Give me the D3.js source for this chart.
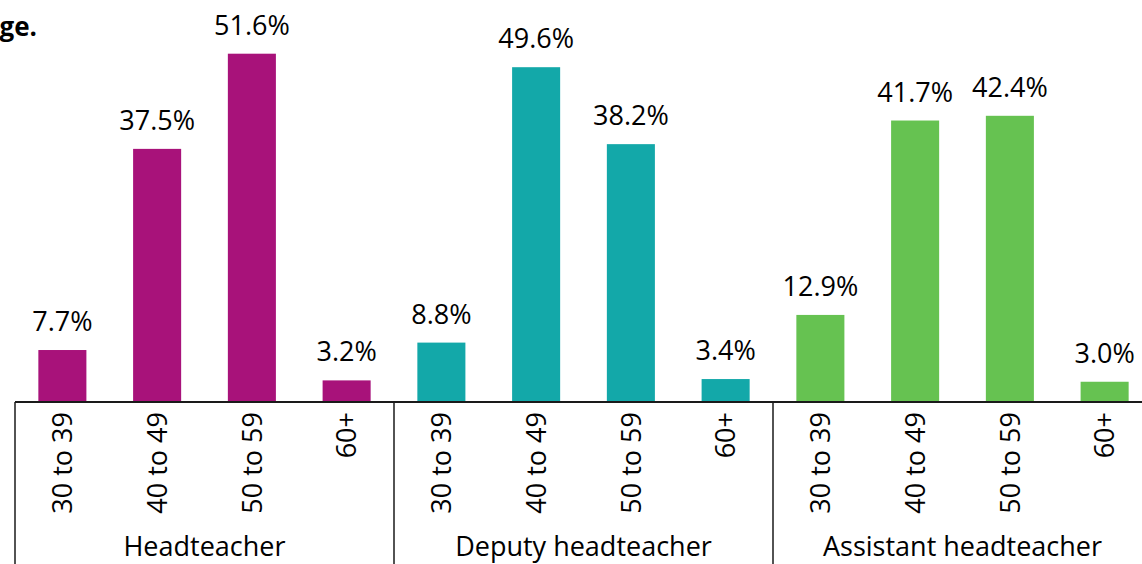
<!DOCTYPE html>
<html>
<head>
<meta charset="utf-8">
<script src="https://cdn.jsdelivr.net/npm/d3@7"></script>
<style>
    body { margin: 0; background: #fff; }
    svg { display: block; font-family: "Open Sans", "Noto Sans", sans-serif; }
</style>
</head>
<body>
<div class="graph"></div>
<script>
var groups = ["Headteacher", "Deputy headteacher", "Assistant headteacher"];
var ages = ["30 to 39", "40 to 49", "50 to 59", "60+"];
var headValues = [7.7, 37.5, 51.6, 3.2];
var deputyValues = [8.8, 49.6, 38.2, 3.4];
var assistantValues = [12.9, 41.7, 42.4, 3.0];
var colors = ["#a8127a", "#13a8a9", "#66c251"];

var loadChart = function () {
    const WIDTH = 1142;
    const HEIGHT = 564;
    const AXIS_Y = 402;

    var seriesValues = [headValues, deputyValues, assistantValues];

    var svg = d3.select(".graph").append("svg")
        .attr("width", WIDTH)
        .attr("height", HEIGHT);

    // clipped title fragment at top left
    svg.append("text")
        .attr("x", 37)
        .attr("y", 36)
        .attr("text-anchor", "end")
        .style("font-weight", "bold")
        .style("font-size", "26px")
        .text("ge.");

    var groupScale = d3.scaleBand().domain(groups).range([15, 1152]);
    var ageScale = d3.scaleBand().domain(ages)
        .range([0, groupScale.bandwidth()])
        .paddingInner(0.493)
        .paddingOuter(0.2465);
    var yScale = d3.scaleLinear().domain([0, 60]).range([AXIS_Y, -3]);

    groups.forEach(function (group, gi) {
        var g = svg.append("g")
            .attr("transform", "translate(" + groupScale(group) + ",0)");

        var data = ages.map(function (age, i) {
            return {age: age, value: seriesValues[gi][i]};
        });

        g.selectAll("rect")
            .data(data)
            .enter().append("rect")
            .attr("x", function (d) { return ageScale(d.age); })
            .attr("y", function (d) { return yScale(d.value); })
            .attr("width", ageScale.bandwidth())
            .attr("height", function (d) { return AXIS_Y - yScale(d.value); })
            .style("fill", colors[gi]);

        g.selectAll(".value")
            .data(data)
            .enter().append("text")
            .attr("class", "value")
            .attr("x", function (d) { return ageScale(d.age) + ageScale.bandwidth() / 2; })
            .attr("y", function (d) { return yScale(d.value) - 19; })
            .attr("text-anchor", "middle")
            .style("font-size", "27px")
            .style("fill", "#000")
            .text(function (d) { return d.value.toFixed(1) + "%"; });

        g.selectAll(".cat")
            .data(data)
            .enter().append("text")
            .attr("class", "cat")
            .attr("transform", function (d) {
                return "translate(" + (ageScale(d.age) + ageScale.bandwidth() / 2) + "," + (AXIS_Y + 10) + ") rotate(-90)";
            })
            .attr("text-anchor", "end")
            .attr("dy", "0.36em")
            .style("font-size", "27px")
            .text(function (d) { return d.age; });

        g.append("text")
            .attr("x", groupScale.bandwidth() / 2)
            .attr("y", 556)
            .attr("text-anchor", "middle")
            .style("font-size", "27px")
            .text(group);

        g.append("line")
            .attr("x1", 0).attr("x2", 0)
            .attr("y1", AXIS_Y).attr("y2", HEIGHT)
            .style("stroke", "#1a1a1a")
            .style("stroke-width", 1.5);
    });

    svg.append("line")
        .attr("x1", groupScale.range()[0]).attr("x2", groupScale.range()[1])
        .attr("y1", AXIS_Y).attr("y2", AXIS_Y)
        .style("stroke", "#1a1a1a")
        .style("stroke-width", 2);
};

window.onload = loadChart();
</script>
</body>
</html>
